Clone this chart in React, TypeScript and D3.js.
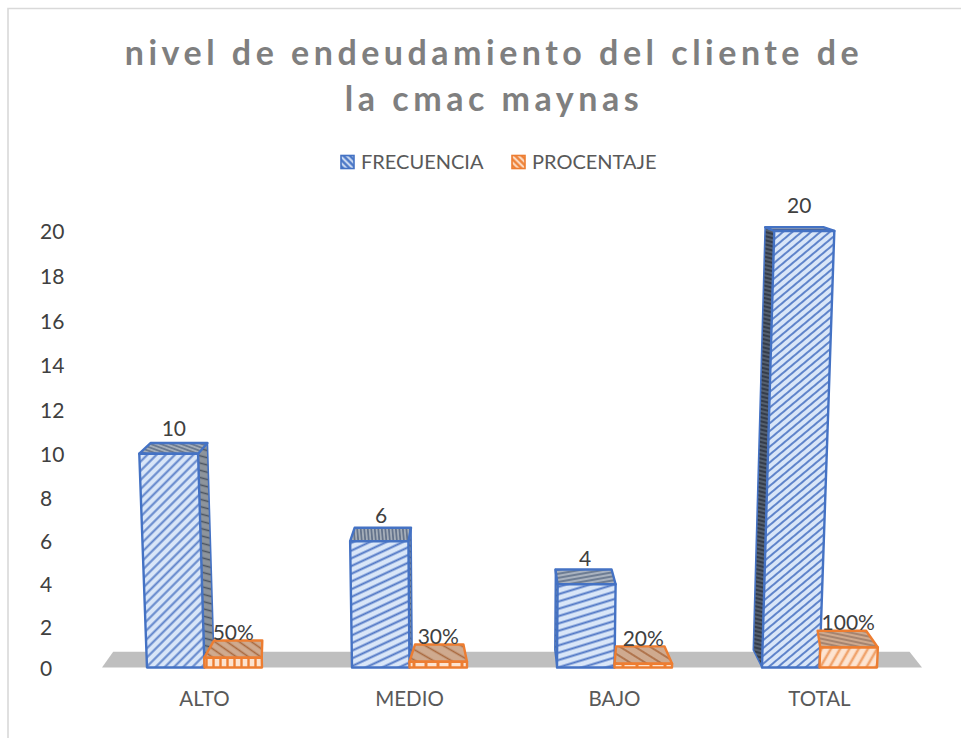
import React from "react";
import * as d3 from "d3";

const categories = ["ALTO", "MEDIO", "BAJO", "TOTAL"];
const frecuencia = [10, 6, 4, 20];
const porcentaje = [0.5, 0.3, 0.2, 1];
const porcentajeLabels = ["50%", "30%", "20%", "100%"];
const yTicks = [0, 2, 4, 6, 8, 10, 12, 14, 16, 18, 20];
const titleLines = ["nivel de endeudamiento del cliente de", "la cmac maynas"];
const seriesNames = ["FRECUENCIA", "PROCENTAJE"];

const W = 971, H = 738;
const CX = 490;
const FONT = "Lato, Carlito, Calibri, sans-serif";

const band = d3.scaleBand<string>().domain(categories).range([102, 922]).paddingInner(90 / 205).paddingOuter(45 / 205);
const y = d3.scalePow().exponent(1.03).domain([0, 20]).range([667.5, 231]);

// Perspective of the 3-D chart: x = position on the floor, h = value, d = depth 0..1
const project = (x: number, h: number, d: number, conv = 0.032, inset = 0): [number, number] => {
  const fx = CX + (x - CX) * (1 + 0.00225 * h);
  return [fx + (CX - fx) * conv * d + inset * d, y(h) - (17.5 - 0.68 * h) * d];
};
const poly = (pts: [number, number][]) => d3.line()(pts)! + "Z";

type Pat = { id: string; bg: string; fg: string; gap: number; w: number; angle: number };
const BLUE = "#4472c4", ORANGE = "#ed7d31";
const patterns: Pat[] = [
  { id: "bf0", bg: "#d9e6f8", fg: "#5f84ca", gap: 6.5, w: 2, angle: -45 },
  { id: "bf1", bg: "#d9e6f8", fg: "#4f76c4", gap: 7, w: 2, angle: -25 },
  { id: "bf2", bg: "#d9e6f8", fg: "#4f76c4", gap: 7, w: 2, angle: -17 },
  { id: "bf3", bg: "#d9e6f8", fg: "#5f84ca", gap: 6, w: 2, angle: -40 },
  { id: "bt0", bg: "#a4adb8", fg: "#66758c", gap: 3.5, w: 1.6, angle: 20 },
  { id: "bt1", bg: "#a4adb8", fg: "#5f6f88", gap: 3.5, w: 1.6, angle: 85 },
  { id: "bt2", bg: "#a9b2bf", fg: "#5f6f88", gap: 4, w: 1.6, angle: -10 },
  { id: "bt3", bg: "#a4adb8", fg: "#4f6388", gap: 3, w: 1.4, angle: 0 },
  { id: "bs0", bg: "#8d949c", fg: "#4c5561", gap: 7, w: 1.5, angle: 15 },
  { id: "bs1", bg: "#8d949c", fg: "#4c5561", gap: 5, w: 1.5, angle: 30 },
  { id: "bs2", bg: "#8d949c", fg: "#4c5561", gap: 5, w: 1.5, angle: 30 },
  { id: "bs3", bg: "#55606f", fg: "#2c3442", gap: 4, w: 1.6, angle: 15 },
  { id: "of0", bg: "#fce3d0", fg: "#ed7d31", gap: 7, w: 2.4, angle: 90 },
  { id: "of1", bg: "#fce3d0", fg: "#ed7d31", gap: 12, w: 3, angle: 90 },
  { id: "of2", bg: "#fce3d0", fg: "#ed7d31", gap: 14, w: 3, angle: 90 },
  { id: "of3", bg: "#fde4d2", fg: "#f0a46e", gap: 8, w: 2.6, angle: -60 },
  { id: "ot0", bg: "#cfaa8f", fg: "#a8683d", gap: 7, w: 1.6, angle: 35 },
  { id: "ot1", bg: "#cfaa8f", fg: "#a8683d", gap: 9, w: 1.6, angle: 30 },
  { id: "ot2", bg: "#cfaa8f", fg: "#a8683d", gap: 8, w: 1.6, angle: 32 },
  { id: "ot3", bg: "#cfaa8f", fg: "#9a7a68", gap: 4, w: 1.6, angle: 12 },
  { id: "ls0", bg: "#c9d8f0", fg: "#4472c4", gap: 4.5, w: 2.2, angle: 45 },
  { id: "ls1", bg: "#fbd9c0", fg: "#ed7d31", gap: 4.5, w: 2.2, angle: 45 },
];

const BlueBar = ({ x0, x1, h, i }: { x0: number; x1: number; h: number; i: number }) => {
  const fTL = project(x0, h, 0), fTR = project(x1, h, 0);
  const bTL = project(x0, h, 1), bTR = project(x1, h, 1);
  const fBL = project(x0, 0, 0), fBR = project(x1, 0, 0);
  const sideX = (x0 + x1) / 2 < CX ? x1 : x0;
  const side = [project(sideX, h, 0), project(sideX, h, 1), project(sideX, 0, 1), project(sideX, 0, 0)] as [number, number][];
  const common = { stroke: BLUE, strokeWidth: 2.4, strokeLinejoin: "round" as const };
  return (
    <g>
      <path d={poly(side)} fill={`url(#bs${i})`} {...common} strokeWidth={1.6} />
      <path d={poly([fTL, bTL, bTR, fTR])} fill={`url(#bt${i})`} {...common} />
      <path d={poly([fTL, fTR, fBR, fBL])} fill={`url(#bf${i})`} {...common} />
    </g>
  );
};

const OrangeBar = ({ x0, x1, h, i }: { x0: number; x1: number; h: number; i: number }) => {
  const fTL = project(x0, h, 0), fTR = project(x1, h, 0);
  const bTL = project(x0, h, 1, 0.02, 4), bTR = project(x1, h, 1, 0.02, -4);
  const fBL = project(x0, 0, 0), fBR = project(x1, 0, 0);
  const common = { stroke: ORANGE, strokeWidth: 2.4, strokeLinejoin: "round" as const };
  return (
    <g>
      <path d={poly([fTL, bTL, bTR, fTR])} fill={`url(#ot${i})`} {...common} />
      <path d={poly([fTL, fTR, fBR, fBL])} fill={`url(#of${i})`} {...common} />
    </g>
  );
};

export default function App() {
  const bw = band.bandwidth() / 2;
  const legend = [
    { x: 341, tx: 361, name: seriesNames[0], fill: "ls0", stroke: BLUE },
    { x: 512, tx: 532, name: seriesNames[1], fill: "ls1", stroke: ORANGE },
  ];
  return (
    <svg width={W} height={H} style={{ position: "absolute", left: 0, top: 0, background: "#fff" }}>
      <defs>
        {patterns.map((p) => (
          <pattern key={p.id} id={p.id} width={p.gap} height={p.gap} patternUnits="userSpaceOnUse" patternTransform={`rotate(${p.angle})`}>
            <rect width={p.gap} height={p.gap} fill={p.bg} />
            <line x1={0} x2={p.gap} y1={p.gap / 2} y2={p.gap / 2} stroke={p.fg} strokeWidth={p.w} />
          </pattern>
        ))}
      </defs>
      <path d="M8,738V8.5H961" fill="none" stroke="#d9d9d9" strokeWidth={1.6} />

      <g fontFamily={FONT} fontWeight={700} fontSize={34} fill="#7f7f7f" textAnchor="middle" letterSpacing={4.5}>
        {titleLines.map((t, i) => (
          <text key={t} x={494} y={65 + i * 46}>{t}</text>
        ))}
      </g>

      {legend.map((l) => (
        <g key={l.name}>
          <rect x={l.x} y={155.5} width={13} height={13} fill={`url(#${l.fill})`} stroke={l.stroke} strokeWidth={1.6} />
          <text x={l.tx} y={169} fontFamily={FONT} fontSize={20} fill="#595959">{l.name}</text>
        </g>
      ))}

      <g fontFamily={FONT} fontSize={21} fill="#404040">
        {yTicks.map((t) => (
          <text key={t} x={40} y={y(t) + 8}>{t}</text>
        ))}
      </g>

      <path
        d={poly([[band.range()[0], y(0)], project(band.range()[0], 0, 0.9), project(band.range()[1], 0, 0.9), [band.range()[1], y(0)]])}
        fill="#bfbfbf"
      />

      {categories.map((c, i) => {
        const x0 = band(c)!;
        return (
          <g key={c}>
            <BlueBar x0={x0} x1={x0 + bw} h={frecuencia[i]} i={i} />
            <OrangeBar x0={x0 + bw} x1={x0 + 2 * bw} h={porcentaje[i]} i={i} />
          </g>
        );
      })}

      <g fontFamily={FONT} fontSize={21} fill="#404040" textAnchor="middle">
        {categories.map((c, i) => {
          const x0 = band(c)!;
          const [fx] = project(x0 + bw / 2, frecuencia[i], 0.5);
          return (
            <g key={c}>
              <text x={fx} y={y(frecuencia[i]) - 18}>{frecuencia[i]}</text>
              <text x={x0 + 1.5 * bw} y={y(porcentaje[i]) - 18}>{porcentajeLabels[i]}</text>
            </g>
          );
        })}
      </g>

      <g fontFamily={FONT} fontSize={20.5} fill="#595959" textAnchor="middle">
        {categories.map((c) => (
          <text key={c} x={band(c)! + bw} y={706}>{c}</text>
        ))}
      </g>
    </svg>
  );
}
